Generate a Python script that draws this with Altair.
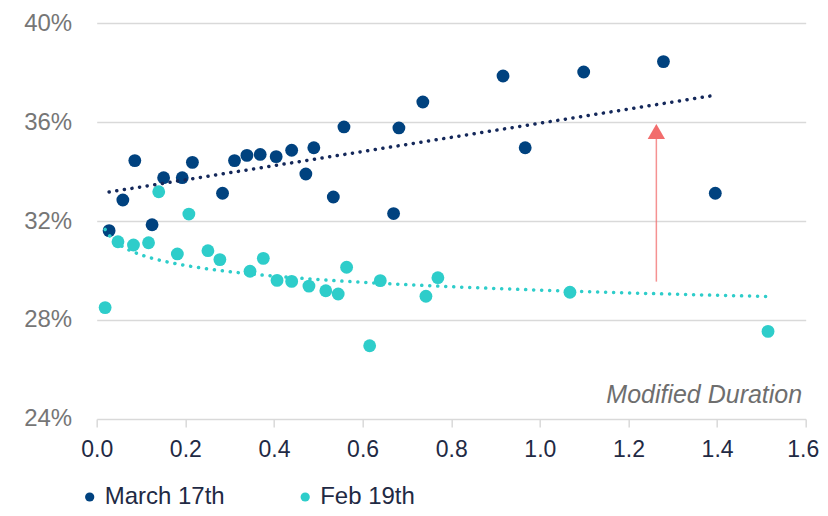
import altair as alt
import pandas as pd

# March 17th series (modified duration, implied vol %)
mar_x = [0.028, 0.059, 0.086, 0.125, 0.151, 0.193, 0.216, 0.284, 0.311, 0.339,
         0.369, 0.405, 0.440, 0.472, 0.490, 0.534, 0.558, 0.670, 0.682, 0.736,
         0.917, 0.967, 1.099, 1.279, 1.396]
mar_y = [31.61, 32.85, 34.44, 31.85, 33.75, 33.75, 34.37, 33.12, 34.44, 34.65,
         34.69, 34.60, 34.86, 33.90, 34.96, 32.97, 35.80, 32.30, 35.76, 36.81,
         37.86, 34.96, 38.02, 38.44, 33.12]

# Feb 19th series
feb_x = [0.019, 0.048, 0.083, 0.117, 0.140, 0.182, 0.208, 0.251, 0.278, 0.346,
         0.376, 0.407, 0.440, 0.479, 0.517, 0.545, 0.564, 0.616, 0.640, 0.743,
         0.770, 1.068, 1.515]
feb_y = [28.50, 31.16, 31.03, 31.12, 33.18, 30.67, 32.28, 30.80, 30.44, 29.97,
         30.49, 29.60, 29.56, 29.37, 29.18, 29.05, 30.13, 26.96, 29.59, 28.96,
         29.71, 29.12, 27.54]

series_names = ["March 17th", "Feb 19th"]
y_ticks = [24, 28, 32, 36, 40]
x_ticks = [0.0, 0.2, 0.4, 0.6, 0.8, 1.0, 1.2, 1.4, 1.6]

# annotation arrow and axis caption
arrow_x = [1.263]
arrow_y0 = [29.55]
arrow_y1 = [35.35]
arrow_head_y = [35.62]
caption_text = ["Modified Duration"]
caption_x = [1.592]
caption_y = [24.65]

NAVY = "#00427F"
TEAL = "#2ECDCA"
TREND_NAVY = "#14285A"
ARROW = "#F26D6D"
FONT = "Liberation Sans"

df = pd.DataFrame({
    "x": mar_x + feb_x,
    "y": mar_y + feb_y,
    "series": [series_names[0]] * len(mar_x) + [series_names[1]] * len(feb_x),
})
mar_df = pd.DataFrame({"x": mar_x, "y": mar_y})
feb_df = pd.DataFrame({"x": feb_x, "y": feb_y})
arrow_df = pd.DataFrame({"x": arrow_x, "y": arrow_y0, "y1": arrow_y1, "yh": arrow_head_y})
cap_df = pd.DataFrame({"t": caption_text, "x": caption_x, "y": caption_y})

xscale = alt.Scale(domain=[0, 1.6], nice=False, zero=False)
yscale = alt.Scale(domain=[24, 40], nice=False, zero=False)

xaxis = alt.Axis(values=x_ticks, format=".1f", title=None, grid=False,
                 domain=False, ticks=True, tickSize=8, tickColor="#D9D9D9", tickWidth=1.5,
                 labelFontSize=23, labelColor="#1F2A44", labelFont=FONT, labelPadding=12,
                 labelFlush=False, labelBound=False,
                 labelOffset={"condition": {"test": "datum.value >= 1.59", "value": -3},
                              "value": 0})
yaxis = alt.Axis(values=y_ticks, labelExpr="datum.value + '%'", title=None,
                 domain=False, ticks=False, grid=True, gridColor="#D9D9D9", gridWidth=1.5,
                 labelFontSize=24, labelColor="#767676", labelFont=FONT, labelPadding=25)

X = alt.X("x:Q", scale=xscale, axis=xaxis)
Y = alt.Y("y:Q", scale=yscale, axis=yaxis)

points = alt.Chart(df).mark_circle(size=165, opacity=1).encode(
    x=X, y=Y,
    color=alt.Color("series:N",
                    scale=alt.Scale(domain=series_names, range=[NAVY, TEAL]),
                    sort=series_names,
                    legend=alt.Legend(title=None, orient="none", direction="horizontal",
                                      legendX=-19, legendY=462,
                                      symbolType="circle", symbolSize=85,
                                      labelFontSize=24, labelFont=FONT, labelColor="#1F2A44",
                                      labelOffset=3, columnPadding=67.5)),
    order=alt.Order("series:N", sort="ascending"),
)

trend_mar = alt.Chart(mar_df).transform_regression("x", "y", method="linear").mark_line(
    color=TREND_NAVY, strokeWidth=3.5, strokeDash=[0.1, 7.6], strokeCap="round"
).encode(x=X, y=Y)

trend_feb = alt.Chart(feb_df).transform_regression("x", "y", method="log").mark_line(
    color=TEAL, strokeWidth=3.5, strokeDash=[0.1, 7.9], strokeCap="round"
).encode(x=X, y=Y)

arrow_line = alt.Chart(arrow_df).mark_rule(color=ARROW, strokeWidth=1.5, opacity=0.75).encode(
    x=X, y=Y, y2="y1:Q")
arrow_head = alt.Chart(arrow_df).mark_point(shape="triangle-up", filled=True, size=300,
                                            color=ARROW, opacity=1).encode(
    x=X, y=alt.Y("yh:Q", scale=yscale, axis=yaxis))

caption = alt.Chart(cap_df).mark_text(align="right", baseline="alphabetic", fontSize=25,
                                      fontStyle="italic", font=FONT, color="#6E6E6E").encode(
    x=X, y=Y, text="t:N")

chart = alt.layer(points, trend_mar, trend_feb, arrow_line, arrow_head, caption).properties(
    width=709, height=396,
    background="white",
    autosize=alt.AutoSizeParams(type="none"),
    padding={"left": 88.7, "top": 15, "right": 14, "bottom": 89},
).configure_view(strokeWidth=0)

chart.save("out.html", embed_options={"renderer": "svg", "actions": False})
